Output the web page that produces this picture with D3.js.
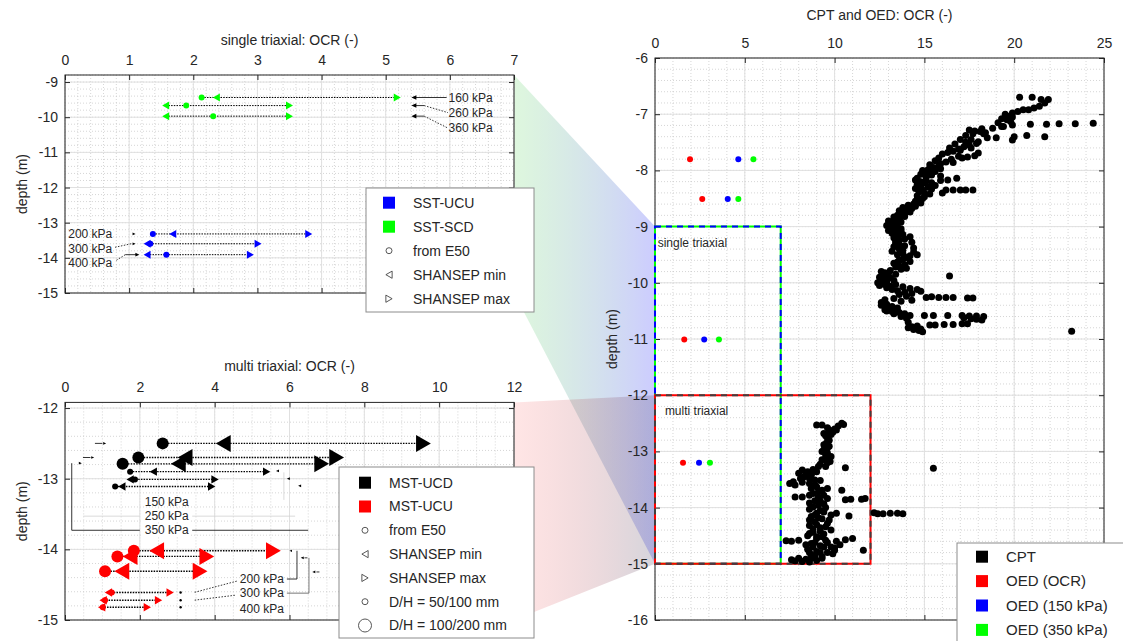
<!DOCTYPE html>
<html>
<head>
<meta charset="utf-8">
<script src="https://cdn.jsdelivr.net/npm/d3@7"></script>
<style>
  body { margin: 0; background: #fff; }
  svg text { font-family: "Liberation Sans", Arial, sans-serif; fill: #262626; }
</style>
</head>
<body>
<svg id="chart" width="1123" height="641"></svg>
<script>
// ---- single triaxial (SST) ----
const sstScdStress = ['160 kPa', '260 kPa', '360 kPa'];
const sstScdDepth = [-9.44, -9.67, -9.97];
const sstScdE50 = [2.13, 1.89, 2.31];
const sstScdMin = [2.36, 1.57, 1.57];
const sstScdMax = [5.18, 3.50, 3.50];

const sstUcuStress = ['200 kPa', '300 kPa', '400 kPa'];
const sstUcuDepth = [-13.32, -13.60, -13.91];
const sstUcuE50 = [1.37, 1.33, 1.58];
const sstUcuMin = [1.68, 1.28, 1.28];
const sstUcuMax = [3.80, 3.01, 2.89];

// ---- multi triaxial (MST) ----  big = D/H 100/200 mm
const mstUcdStress = ['150 kPa', '250 kPa', '350 kPa'];
const mstUcdDepth = [-12.50, -12.70, -12.79, -12.90, -13.01, -13.11];
const mstUcdE50 = [2.61, 1.96, 1.54, 1.74, 1.87, 1.34];
const mstUcdMin = [4.23, 3.21, 3.03, 2.36, 1.74, 1.52];
const mstUcdMax = [9.58, 7.26, 6.86, 5.39, 4.01, 3.92];
const mstUcdBig = [true, true, true, false, false, false];

const mstUcuStress = ['200 kPa', '300 kPa', '400 kPa'];
const mstUcuDepth = [-14.02, -14.10, -14.31, -14.61, -14.72, -14.82];
const mstUcuE50 = [1.84, 1.40, 1.07, 1.25, 1.07, 1.01];
const mstUcuMin = [2.45, 1.74, 1.52, 1.16, 1.02, 0.98];
const mstUcuMax = [5.57, 3.79, 3.61, 2.81, 2.50, 2.20];
const mstUcuBig = [true, true, true, false, false, false];

// ---- oedometer ----
const oedDepth = [-7.80, -8.51, -11.01, -13.20];
const oedOcr = [1.95, 2.63, 1.63, 1.56];
const oed150 = [4.64, 4.05, 2.74, 2.45];
const oed350 = [5.48, 4.64, 3.56, 3.06];

// ---- CPT profile [OCR, depth] ----
const cptProfile = [
  [20.3,-6.70],[21.0,-6.70],[21.5,-6.74],[21.9,-6.74],[21.7,-6.80],[21.4,-6.86],[21.1,-6.89],[20.8,-6.92],
  [20.5,-6.92],[20.2,-6.95],[19.9,-6.98],[19.7,-7.04],[19.6,-7.10],[19.8,-7.13],[19.9,-7.19],[19.4,-7.22],
  [19.5,-7.00],[19.9,-7.05],[19.3,-7.08],[19.1,-7.15],
  [20.9,-7.18],[21.8,-7.18],[22.5,-7.17],[23.4,-7.17],[24.4,-7.16],
  [20.0,-7.40],[20.7,-7.38],[21.7,-7.40],[19.9,-7.46],
  [18.8,-7.25],[19.3,-7.22],[17.5,-7.28],[17.8,-7.30],[18.1,-7.31],[18.4,-7.33],[18.5,-7.42],[19.0,-7.42],[18.0,-7.49],
  [18.2,-7.26],[17.7,-7.35],[18.3,-7.35],[17.3,-7.38],[17.6,-7.45],[17.0,-7.45],[17.3,-7.50],[16.7,-7.53],
  [17.9,-7.52],[17.5,-7.55],[17.2,-7.58],[16.9,-7.62],[16.6,-7.66],[18.0,-7.69],[17.8,-7.74],[17.4,-7.76],
  [16.4,-7.60],[17.6,-7.60],[17.0,-7.64],[16.3,-7.68],[16.0,-7.71],[15.8,-7.78],[17.1,-7.78],[15.6,-7.83],
  [16.6,-7.86],[15.3,-7.90],[15.9,-7.97],[14.9,-8.00],[15.3,-8.04],[14.8,-8.07],[15.1,-8.12],[14.6,-8.14],
  [16.9,-7.75],[16.5,-7.80],[16.2,-7.85],[15.9,-7.88],
  [15.8,-7.92],[15.5,-7.95],[15.2,-7.99],[15.6,-8.02],[15.0,-8.05],[15.4,-8.08],[15.9,-8.10],
  [15.9,-8.18],[16.3,-8.17],[16.8,-8.14],
  [14.5,-8.17],[14.8,-8.20],[15.1,-8.19],[15.4,-8.22],[14.6,-8.25],
  [15.0,-8.22],[15.6,-8.27],[14.8,-8.28],[14.5,-8.32],[14.7,-8.38],[15.3,-8.42],[15.0,-8.47],[14.6,-8.52],
  [16.0,-8.40],[16.2,-8.35],[16.6,-8.35],[17.0,-8.35],[17.3,-8.35],[17.7,-8.35],
  [15.2,-8.30],[14.9,-8.35],[15.4,-8.33],[15.0,-8.40],
  [14.6,-8.45],[14.9,-8.50],[14.5,-8.55],[14.8,-8.58],[14.4,-8.60],[14.5,-8.64],[14.0,-8.70],[14.2,-8.74],
  [14.1,-8.62],[13.8,-8.66],[14.3,-8.68],[13.6,-8.72],[13.9,-8.76],[13.5,-8.80],[13.8,-8.78],[13.9,-8.82],
  [13.3,-8.83],[13.6,-8.86],[13.0,-8.90],[13.4,-8.94],[12.9,-8.98],[13.2,-9.02],[13.7,-9.04],[13.0,-9.07],
  [13.3,-8.88],[13.7,-8.92],[13.2,-8.96],[13.5,-9.00],[13.3,-9.05],[13.7,-9.08],[13.2,-9.12],[13.5,-9.16],
  [13.5,-9.10],[13.8,-9.14],[14.2,-9.18],[13.3,-9.20],[13.6,-9.24],[14.3,-9.28],[13.4,-9.30],[13.9,-9.34],
  [14.4,-9.38],[13.6,-9.40],[13.2,-9.44],[13.9,-9.22],[13.4,-9.26],[13.6,-9.32],[13.3,-9.36],
  [13.8,-9.42],[14.4,-9.45],[13.5,-9.50],[14.0,-9.55],[13.6,-9.60],[14.6,-9.50],[13.3,-9.65],[13.9,-9.68],
  [14.2,-9.62],[13.4,-9.72],[13.7,-9.76],[13.8,-9.48],[14.2,-9.52],[13.8,-9.58],[13.5,-9.63],[13.6,-9.70],
  [14.0,-9.74],[13.1,-9.78],[12.8,-9.82],[12.7,-9.88],[13.1,-9.91],[12.6,-9.95],[12.9,-9.98],
  [12.6,-9.80],[13.0,-9.83],[13.4,-9.85],[12.5,-9.90],[12.9,-9.93],[13.3,-9.96],[12.4,-10.00],[12.8,-10.03],[13.1,-10.06],
  [12.5,-10.05],[12.9,-10.09],[13.2,-10.12],
  [16.4,-9.88],
  [13.4,-10.03],[13.8,-10.07],[14.2,-10.10],[14.6,-10.12],[13.5,-10.14],[13.9,-10.17],[14.3,-10.19],[14.8,-10.15],
  [13.6,-10.21],[14.0,-10.24],[13.3,-10.28],[12.8,-10.30],
  [15.1,-10.26],[15.4,-10.25],[15.8,-10.26],[16.2,-10.26],[16.6,-10.26],[17.4,-10.27],[17.7,-10.27],[13.7,-10.33],[14.3,-10.31],
  [12.6,-10.35],[12.9,-10.38],[13.2,-10.42],[13.5,-10.45],[12.8,-10.48],[13.2,-10.51],[13.6,-10.53],[13.9,-10.55],
  [12.6,-10.40],[13.0,-10.44],[13.3,-10.47],[12.9,-10.50],[13.3,-10.55],[13.7,-10.60],[14.0,-10.63],[14.1,-10.70],
  [14.2,-10.58],[15.0,-10.58],[15.5,-10.58],[16.3,-10.58],[17.1,-10.58],[17.5,-10.59],[17.9,-10.59],[18.3,-10.60],
  [17.2,-10.62],[17.6,-10.64],[17.9,-10.65],[18.2,-10.66],
  [15.3,-10.75],[15.6,-10.75],[16.1,-10.74],[16.6,-10.74],[17.1,-10.73],[17.4,-10.73],
  [14.1,-10.80],[14.4,-10.83],[14.7,-10.85],[14.9,-10.87],[14.3,-10.78],[14.6,-10.77],[14.8,-10.82],
  [23.2,-10.86],
  // lower layer
  [9.0,-12.53],[9.3,-12.53],[10.4,-12.50],[10.5,-12.52],[10.2,-12.55],[10.0,-12.60],[9.85,-12.64],[9.4,-12.68],
  [9.8,-12.70],[9.6,-12.76],[9.55,-12.85],[9.7,-12.91],[9.4,-12.97],[9.6,-13.03],[9.5,-13.12],[9.75,-13.18],
  [9.6,-12.58],[9.7,-12.62],[10.1,-12.62],[9.9,-12.66],[9.5,-12.72],[9.7,-12.80],[9.4,-12.88],[9.6,-12.94],
  [9.3,-13.00],[9.5,-13.06],[9.8,-13.09],[9.3,-13.15],[9.6,-13.20],
  [9.2,-13.23],[9.1,-13.27],[9.5,-13.27],[8.8,-13.32],
  [10.6,-13.29],[15.5,-13.30],
  [8.2,-13.33],[8.0,-13.39],[8.3,-13.45],[7.7,-13.54],[7.5,-13.57],[7.8,-13.60],[8.7,-13.42],[8.9,-13.51],
  [8.5,-13.36],[9.0,-13.36],[8.7,-13.40],[8.4,-13.40],[8.1,-13.48],[8.6,-13.48],[9.2,-13.52],[8.2,-13.55],
  [8.9,-13.60],[8.7,-13.66],[9.6,-13.66],[9.1,-13.72],[8.6,-13.78],[9.4,-13.78],[8.9,-13.88],[9.2,-13.88],
  [8.6,-13.57],[9.0,-13.63],[9.3,-13.69],[8.8,-13.75],[9.1,-13.81],[9.6,-13.84],[9.4,-13.93],[8.8,-13.99],[9.2,-14.05],
  [8.6,-13.92],[9.1,-13.96],[9.5,-14.00],[8.6,-14.03],[9.4,-14.08],[8.9,-14.13],[9.8,-14.13],[9.1,-14.18],
  [10.4,-13.69],[10.6,-13.86],[10.9,-13.85],[11.5,-13.85],[11.7,-13.84],
  [7.8,-13.81],[8.2,-13.81],
  [10.1,-14.10],[10.8,-14.15],
  [12.2,-14.09],[12.4,-14.11],[12.7,-14.11],[13.1,-14.10],[13.5,-14.10],[13.8,-14.11],
  [9.0,-14.10],[8.7,-14.16],[9.3,-14.20],[8.9,-14.25],[9.6,-14.28],[8.6,-14.32],[9.2,-14.36],[9.8,-14.40],
  [8.8,-14.44],[9.4,-14.47],[8.5,-14.50],
  [8.6,-14.22],[9.7,-14.22],[9.0,-14.30],[9.5,-14.34],[8.8,-14.38],[9.2,-14.42],[8.6,-14.46],[9.0,-14.52],[9.3,-14.52],
  [7.3,-14.59],[7.6,-14.60],[8.0,-14.58],
  [9.0,-14.55],[9.5,-14.58],[10.1,-14.60],[10.6,-14.57],[11.0,-14.55],[8.7,-14.64],[9.2,-14.68],[9.8,-14.70],
  [10.3,-14.66],[8.5,-14.74],[9.0,-14.78],[9.6,-14.80],[10.0,-14.76],[8.7,-14.84],[9.3,-14.87],
  [8.9,-14.62],[9.6,-14.62],[8.4,-14.66],[8.8,-14.70],[9.4,-14.70],[10.0,-14.72],[8.6,-14.80],[9.2,-14.80],
  [9.9,-14.82],[8.9,-14.86],[8.0,-14.90],[8.7,-14.90],[7.6,-14.93],
  [11.6,-14.76],
  [7.8,-14.95],[8.2,-14.96],[8.6,-14.97],[9.0,-14.94],[8.4,-14.92],[9.3,-14.90]
];

const axisColor = '#262626';
let svg = d3.select('#chart');
svg.append('rect').attr('width', 1123).attr('height', 641).attr('fill', '#fff');

// scales
let xSingle = d3.scaleLinear().domain([0, 7]).range([65, 514]);
let ySingle = d3.scaleLinear().domain([-15, -8.8]).range([293, 75]);
let xMulti = d3.scaleLinear().domain([0, 12]).range([65, 514]);
let yMulti = d3.scaleLinear().domain([-15, -11.92]).range([620, 402.4]);
let xCpt = d3.scaleLinear().domain([0, 25]).range([655, 1104]);
let yCpt = d3.scaleLinear().domain([-16, -6]).range([620, 58]);

// shaded zoom regions linking the left panels to the boxes in the CPT plot
let defs = svg.append('defs');
function gradient(id, c0, o0, c1, o1) {
  let gr = defs.append('linearGradient').attr('id', id).attr('x1', 0).attr('x2', 1).attr('y1', 0).attr('y2', 0);
  gr.append('stop').attr('offset', 0).attr('stop-color', c0).attr('stop-opacity', o0);
  gr.append('stop').attr('offset', 1).attr('stop-color', c1).attr('stop-opacity', o1);
}
gradient('gSingle', '#00c000', 0.13, '#0000ff', 0.2);
gradient('gMulti', '#ff0000', 0.1, '#404060', 0.22);

svg.append('path')
  .attr('d', d3.line()([
    [xSingle(7), ySingle(-8.8)], [xCpt(0), yCpt(-9)], [xCpt(0), yCpt(-15)], [xSingle(7), ySingle(-15)]
  ]) + 'Z')
  .attr('fill', 'url(#gSingle)');
svg.append('path')
  .attr('d', d3.line()([
    [xMulti(12), yMulti(-11.92)], [xCpt(0), yCpt(-12)], [xCpt(0), yCpt(-15)], [xMulti(12), yMulti(-15)]
  ]) + 'Z')
  .attr('fill', 'url(#gMulti)');

function drawPanel(x, y, xMajor, xStep, yMajor, yStep, title, titleY, labelX) {
  let [xl, xr] = x.range();
  let [yb, yt] = y.range();
  let g = svg.append('g');
  g.append('rect').attr('x', xl).attr('y', yt).attr('width', xr - xl).attr('height', yb - yt).attr('fill', '#fff');

  let xd = x.domain(), yd = y.domain();
  let xMinor = d3.range(Math.ceil(xd[0] / xStep), Math.floor(xd[1] / xStep) + 1).map(k => k * xStep);
  let yMinor = d3.range(Math.ceil(yd[0] / yStep - 1e-6), Math.floor(yd[1] / yStep + 1e-6) + 1).map(k => k * yStep);

  g.selectAll('.vmin').data(xMinor).join('line')
    .attr('x1', d => x(d)).attr('x2', d => x(d)).attr('y1', yt).attr('y2', yb)
    .attr('stroke', '#c4c4c4').attr('stroke-width', 0.7).attr('stroke-dasharray', '1,2');
  g.selectAll('.hmin').data(yMinor).join('line')
    .attr('y1', d => y(d)).attr('y2', d => y(d)).attr('x1', xl).attr('x2', xr)
    .attr('stroke', '#c4c4c4').attr('stroke-width', 0.7).attr('stroke-dasharray', '1,2');
  g.selectAll('.vmaj').data(xMajor).join('line')
    .attr('x1', d => x(d)).attr('x2', d => x(d)).attr('y1', yt).attr('y2', yb)
    .attr('stroke', '#e0e0e0').attr('stroke-width', 1);
  g.selectAll('.hmaj').data(yMajor).join('line')
    .attr('y1', d => y(d)).attr('y2', d => y(d)).attr('x1', xl).attr('x2', xr)
    .attr('stroke', '#e0e0e0').attr('stroke-width', 1);

  let style = a => {
    a.select('.domain').remove();
    a.selectAll('line').attr('stroke', axisColor);
    a.selectAll('text').attr('font-size', 14).attr('font-family', null).attr('fill', axisColor);
  };
  g.append('g').attr('transform', `translate(0,${yt})`)
    .call(d3.axisTop(x).tickValues(xMajor).tickSize(-5).tickPadding(10).tickFormat(d => String(d))).call(style);
  g.append('g').attr('transform', `translate(0,${yb})`)
    .call(d3.axisBottom(x).tickValues(xMajor).tickSize(-5).tickFormat('')).call(style);
  g.append('g').attr('transform', `translate(${xl},0)`)
    .call(d3.axisLeft(y).tickValues(yMajor).tickSize(-5).tickPadding(7).tickFormat(d => String(d))).call(style);
  g.append('g').attr('transform', `translate(${xr},0)`)
    .call(d3.axisRight(y).tickValues(yMajor).tickSize(-5).tickFormat('')).call(style);

  g.append('rect').attr('x', xl).attr('y', yt).attr('width', xr - xl).attr('height', yb - yt)
    .attr('fill', 'none').attr('stroke', axisColor).attr('stroke-width', 1);

  g.append('text').attr('x', (xl + xr) / 2).attr('y', titleY).attr('text-anchor', 'middle')
    .attr('font-size', 14).text(title);
  g.append('text').attr('transform', `translate(${labelX},${(yt + yb) / 2}) rotate(-90)`)
    .attr('text-anchor', 'middle').attr('dy', '0.35em').attr('font-size', 14).text('depth (m)');
  return g;
}

function triangle(dir, s) {
  let w = s * 0.87;
  return dir === 'left'
    ? `M${-w},0L${w},${-s}L${w},${s}Z`
    : `M${w},0L${-w},${-s}L${-w},${s}Z`;
}

// one row = dotted span plus E50 circle, SHANSEP min and max triangles
function drawRows(g, x, y, depth, e50, mn, mx, big, color, lw, sizes) {
  let rows = depth.map((d, i) => ({ d, e: e50[i], lo: mn[i], hi: mx[i], big: big ? big[i] : false }));
  g.selectAll(null).data(rows).join('line')
    .attr('x1', r => x(Math.min(r.e, r.lo, r.hi))).attr('x2', r => x(Math.max(r.e, r.lo, r.hi)))
    .attr('y1', r => y(r.d)).attr('y2', r => y(r.d))
    .attr('stroke', '#000').attr('stroke-width', lw).attr('stroke-dasharray', '1.5,1.2');
  g.selectAll(null).data(rows).join('circle')
    .attr('cx', r => x(r.e)).attr('cy', r => y(r.d))
    .attr('r', r => r.big ? sizes.rBig : sizes.r).attr('fill', color);
  g.selectAll(null).data(rows).join('path')
    .attr('transform', r => `translate(${x(r.lo)},${y(r.d)})`)
    .attr('d', r => triangle('left', r.big ? sizes.tBig : sizes.t)).attr('fill', color);
  g.selectAll(null).data(rows).join('path')
    .attr('transform', r => `translate(${x(r.hi)},${y(r.d)})`)
    .attr('d', r => triangle('right', r.big ? sizes.tBig : sizes.t)).attr('fill', color);
}

function arrowHead(g, px, py, dir, s) {
  let d = dir === 'left' ? `M${px},${py}l${s},${-s / 2.2}l0,${s / 1.1}Z` : `M${px},${py}l${-s},${-s / 2.2}l0,${s / 1.1}Z`;
  g.append('path').attr('d', d).attr('fill', '#000');
}
function seg(g, pts, dash, color, w) {
  g.append('path').attr('d', d3.line()(pts)).attr('fill', 'none')
    .attr('stroke', color || '#000').attr('stroke-width', w || 0.8)
    .attr('stroke-dasharray', dash ? '1.5,1.5' : null);
}
function note(g, px, py, txt, anchor) {
  g.append('text').attr('x', px).attr('y', py).attr('dy', '0.35em').attr('font-size', 12)
    .attr('text-anchor', anchor || 'start').text(txt);
}

// ---------------- single triaxial panel ----------------
let gS = drawPanel(xSingle, ySingle, d3.range(0, 8), 0.2, d3.range(-15, -8), 0.2,
  'single triaxial: OCR (-)', 45, 22);
let sizeS = { r: 3, rBig: 3, t: 4, tBig: 4 };
drawRows(gS, xSingle, ySingle, sstScdDepth, sstScdE50, sstScdMin, sstScdMax, null, '#00ff00', 1, sizeS);
drawRows(gS, xSingle, ySingle, sstUcuDepth, sstUcuE50, sstUcuMin, sstUcuMax, null, '#0000ff', 1, sizeS);

// confining stress notes, SCD
let labS = [-9.44, -9.87, -10.31];
seg(gS, [[xSingle(5.95), ySingle(sstScdDepth[0])], [xSingle(5.45), ySingle(sstScdDepth[0])]]);
arrowHead(gS, xSingle(5.40), ySingle(sstScdDepth[0]), 'left', 5);
[1, 2].forEach(i => {
  seg(gS, [[xSingle(5.45), ySingle(sstScdDepth[i])], [xSingle(5.6), ySingle(sstScdDepth[i])]]);
  seg(gS, [[xSingle(5.6), ySingle(sstScdDepth[i])], [xSingle(5.97), ySingle(labS[i])]], true);
  arrowHead(gS, xSingle(5.40), ySingle(sstScdDepth[i]), 'left', 5);
});
sstScdStress.forEach((t, i) => note(gS, xSingle(5.98), ySingle(labS[i]), t));

// confining stress notes, UCU
let labU = [-13.32, -13.73, -14.15];
sstUcuStress.forEach((t, i) => note(gS, xSingle(0.05), ySingle(labU[i]), t));
arrowHead(gS, xSingle(1.10), ySingle(sstUcuDepth[0]), 'right', 3);
arrowHead(gS, xSingle(1.10), ySingle(sstUcuDepth[1]), 'right', 3);
seg(gS, [[xSingle(0.78), ySingle(-13.70)], [xSingle(1.03), ySingle(sstUcuDepth[1])]], true);
seg(gS, [[xSingle(0.94), ySingle(sstUcuDepth[2])], [xSingle(1.12), ySingle(sstUcuDepth[2])]]);
arrowHead(gS, xSingle(1.16), ySingle(sstUcuDepth[2]), 'right', 4);
seg(gS, [[xSingle(0.80), ySingle(-14.07)], [xSingle(0.94), ySingle(sstUcuDepth[2])]], true);

// ---------------- multi triaxial panel ----------------
let gM = drawPanel(xMulti, yMulti, d3.range(0, 13, 2), 0.5, d3.range(-15, -11), 0.2,
  'multi triaxial: OCR (-)', 371, 22);
let sizeM = { r: 3, rBig: 6, t: 4.2, tBig: 8.5 };

// stress notes, UCD (black)
seg(gM, [[xMulti(0.18), yMulti(-12.78)], [xMulti(0.18), yMulti(-13.73)], [xMulti(2.0), yMulti(-13.73)]]);
seg(gM, [[xMulti(3.4), yMulti(-13.73)], [xMulti(6.5), yMulti(-13.73)]]);
seg(gM, [[xMulti(0.49), yMulti(-13.53)], [xMulti(2.0), yMulti(-13.53)]], false, '#d0d0d0');
seg(gM, [[xMulti(3.4), yMulti(-13.53)], [xMulti(6.15), yMulti(-13.53)]], false, '#d0d0d0');
seg(gM, [[xMulti(5.85), yMulti(-12.91)], [xMulti(5.85), yMulti(-13.30)]], false, '#d0d0d0');
seg(gM, [[xMulti(0.8), yMulti(mstUcdDepth[0])], [xMulti(1.0), yMulti(mstUcdDepth[0])]]);
arrowHead(gM, xMulti(1.1), yMulti(mstUcdDepth[0]), 'right', 3);
seg(gM, [[xMulti(0.48), yMulti(mstUcdDepth[1])], [xMulti(0.68), yMulti(mstUcdDepth[1])]]);
arrowHead(gM, xMulti(0.78), yMulti(mstUcdDepth[1]), 'right', 3);
arrowHead(gM, xMulti(0.45), yMulti(-12.78), 'right', 3);
arrowHead(gM, xMulti(5.64), yMulti(-12.89), 'left', 3);
arrowHead(gM, xMulti(5.93), yMulti(-13.0), 'left', 3);
arrowHead(gM, xMulti(6.23), yMulti(-13.10), 'left', 3);
let labD = [-13.32, -13.53, -13.73];
mstUcdStress.forEach((t, i) => {
  gM.append('rect').attr('x', xMulti(2.05)).attr('y', yMulti(labD[i]) - 6).attr('width', xMulti(3.35) - xMulti(2.05))
    .attr('height', 12).attr('fill', i ? '#fff' : 'none');
  note(gM, xMulti(2.72), yMulti(labD[i]), t, 'middle');
});

drawRows(gM, xMulti, yMulti, mstUcdDepth, mstUcdE50, mstUcdMin, mstUcdMax, mstUcdBig, '#000', 1.4, sizeM);
drawRows(gM, xMulti, yMulti, mstUcuDepth, mstUcuE50, mstUcuMin, mstUcuMax, mstUcuBig, '#ff0000', 1.4, sizeM);

// stress notes, UCU (red)
let labR = [-14.42, -14.62, -14.84];
mstUcuStress.forEach((t, i) => note(gM, xMulti(5.26), yMulti(labR[i]), t, 'middle'));
seg(gM, [[xMulti(5.93), yMulti(labR[0])], [xMulti(6.2), yMulti(labR[0])], [xMulti(6.2), yMulti(-14.02)]]);
seg(gM, [[xMulti(5.93), yMulti(labR[1])], [xMulti(6.52), yMulti(labR[1])], [xMulti(6.52), yMulti(-14.12)]], false, '#555');
arrowHead(gM, xMulti(6.0), yMulti(-14.02), 'left', 2.5);
seg(gM, [[xMulti(6.40), yMulti(-14.12)], [xMulti(6.48), yMulti(-14.12)]]);
arrowHead(gM, xMulti(6.30), yMulti(-14.12), 'left', 3);
seg(gM, [[xMulti(6.72), yMulti(-14.32)], [xMulti(6.80), yMulti(-14.32)]]);
arrowHead(gM, xMulti(6.61), yMulti(-14.32), 'left', 3);
seg(gM, [[xMulti(4.59), yMulti(-14.45)], [xMulti(3.45), yMulti(mstUcuDepth[3])]], true);
seg(gM, [[xMulti(4.54), yMulti(-14.65)], [xMulti(3.45), yMulti(mstUcuDepth[4])]], true);
[3, 4, 5].forEach(i => gM.append('circle').attr('cx', xMulti(3.09)).attr('cy', yMulti(mstUcuDepth[i])).attr('r', 1.2).attr('fill', '#000'));

// ---------------- CPT and OED panel ----------------
let gC = drawPanel(xCpt, yCpt, d3.range(0, 26, 5), 1, d3.range(-16, -5), 0.2,
  'CPT and OED: OCR (-)', 20, 612);

function dashedBox(g, x0, x1, y0, y1, c0, c1) {
  let pts = [[xCpt(x0), yCpt(y0)], [xCpt(x1), yCpt(y0)], [xCpt(x1), yCpt(y1)], [xCpt(x0), yCpt(y1)]];
  let d = d3.line()(pts) + 'Z';
  g.append('path').attr('d', d).attr('fill', 'none').attr('stroke', c0).attr('stroke-width', 2);
  g.append('path').attr('d', d).attr('fill', 'none').attr('stroke', c1).attr('stroke-width', 2).attr('stroke-dasharray', '6,5');
}
dashedBox(gC, 0, 7, -9, -15, '#00ff00', '#0000ff');
dashedBox(gC, 0, 12, -12, -15, '#ff0000', '#404040');
gC.append('text').attr('x', xCpt(0.15)).attr('y', yCpt(-9.28)).attr('dy', '0.35em').attr('font-size', 12).text('single triaxial');
gC.append('text').attr('x', xCpt(0.55)).attr('y', yCpt(-12.27)).attr('dy', '0.35em').attr('font-size', 12).text('multi triaxial');

gC.selectAll(null).data(cptProfile).join('circle')
  .attr('cx', d => xCpt(d[0])).attr('cy', d => yCpt(d[1])).attr('r', 3.5).attr('fill', '#000');

[[oedOcr, '#ff0000'], [oed150, '#0000ff'], [oed350, '#00ff00']].forEach(([vals, c]) => {
  gC.selectAll(null).data(vals).join('circle')
    .attr('cx', d => xCpt(d)).attr('cy', (d, i) => yCpt(oedDepth[i])).attr('r', 3).attr('fill', c);
});

// ---------------- legends ----------------
function legend(x0, y0, w, h, firstY, step, markX, textX, items, fs) {
  let g = svg.append('g');
  g.append('rect').attr('x', x0).attr('y', y0).attr('width', w).attr('height', h)
    .attr('fill', '#fff').attr('stroke', '#8c8c8c').attr('stroke-width', 1);
  items.forEach((it, i) => {
    let cy = firstY + i * step;
    if (it.type === 'square') {
      g.append('rect').attr('x', markX - 6).attr('y', cy - 6).attr('width', 12).attr('height', 12).attr('fill', it.color);
    } else if (it.type === 'circle') {
      g.append('circle').attr('cx', markX).attr('cy', cy).attr('r', it.r).attr('fill', 'none')
        .attr('stroke', '#444').attr('stroke-width', 0.9);
    } else {
      g.append('path').attr('transform', `translate(${markX},${cy})`).attr('d', triangle(it.type, 3.6))
        .attr('fill', 'none').attr('stroke', '#444').attr('stroke-width', 0.9);
    }
    g.append('text').attr('x', textX).attr('y', cy).attr('dy', '0.35em').attr('font-size', fs).text(it.label);
  });
}

legend(366, 188, 168, 124, 202.7, 24, 389, 413, [
  { type: 'square', color: '#0000ff', label: 'SST-UCU' },
  { type: 'square', color: '#00ff00', label: 'SST-SCD' },
  { type: 'circle', r: 3, label: 'from E50' },
  { type: 'left', label: 'SHANSEP min' },
  { type: 'right', label: 'SHANSEP max' }
], 14);

legend(339, 467, 195, 171, 482.7, 23.8, 365, 389, [
  { type: 'square', color: '#000', label: 'MST-UCD' },
  { type: 'square', color: '#ff0000', label: 'MST-UCU' },
  { type: 'circle', r: 3, label: 'from E50' },
  { type: 'left', label: 'SHANSEP min' },
  { type: 'right', label: 'SHANSEP max' },
  { type: 'circle', r: 3, label: 'D/H = 50/100 mm' },
  { type: 'circle', r: 6.5, label: 'D/H = 100/200 mm' }
], 14);

legend(957, 543, 200, 110, 556.7, 24.4, 982, 1006, [
  { type: 'square', color: '#000', label: 'CPT' },
  { type: 'square', color: '#ff0000', label: 'OED (OCR)' },
  { type: 'square', color: '#0000ff', label: 'OED (150 kPa)' },
  { type: 'square', color: '#00ff00', label: 'OED (350 kPa)' }
], 15);
</script>
</body>
</html>
